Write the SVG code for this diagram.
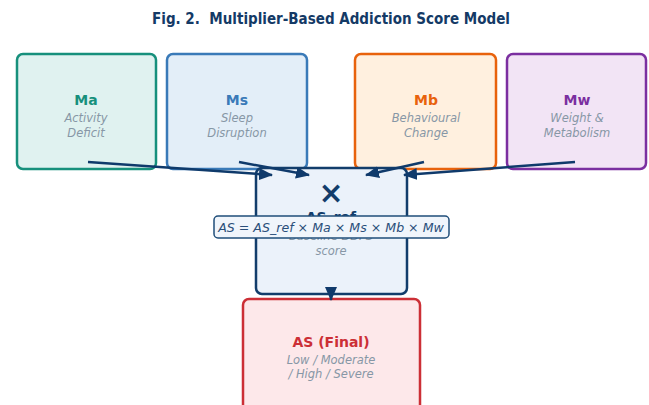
<svg xmlns="http://www.w3.org/2000/svg" width="649" height="405" viewBox="0 0 649 405">
<style>
.title{font-family:"DejaVu Sans Condensed","DejaVu Sans",sans-serif;font-weight:bold;font-size:15px;fill:#143a66;white-space:pre}
.box{stroke-width:2.5}
.lbl{font-family:"DejaVu Sans",sans-serif;font-weight:bold;font-size:14px;text-anchor:middle}
.sub{font-family:"DejaVu Sans",sans-serif;font-style:italic;font-size:11.5px;fill:#8797a6;text-anchor:middle}
.conn{stroke:#0f3a6b;stroke-width:2.5;fill:none}
</style>
<defs>
<marker id="ah" markerUnits="userSpaceOnUse" markerWidth="14" markerHeight="12" viewBox="0 0 14 12" refX="13" refY="6" orient="auto">
<path d="M0,0 L14,6 L0,12 Z" fill="#0f3a6b"/>
</marker>
</defs>
<rect width="649" height="405" fill="#ffffff"/>
<text class="title" x="331" y="24" text-anchor="middle" xml:space="preserve">Fig. 2.  Multiplier-Based Addiction Score Model</text>

<g id="node-ma">
<rect class="box" x="17" y="54" width="139" height="115" rx="6" fill="#e0f2f0" stroke="#17907c"/>
<text class="lbl" x="86" y="105" fill="#17907c">Ma</text>
<text class="sub" x="86" y="122">Activity</text>
<text class="sub" x="86" y="137">Deficit</text>
</g>
<g id="node-ms">
<rect class="box" x="167" y="54" width="140" height="115" rx="6" fill="#e3eef8" stroke="#3a7ab8"/>
<text class="lbl" x="237" y="105" fill="#3a7ab8">Ms</text>
<text class="sub" x="237" y="122">Sleep</text>
<text class="sub" x="237" y="137">Disruption</text>
</g>
<g id="node-mb">
<rect class="box" x="355" y="54" width="141" height="115" rx="6" fill="#fff0df" stroke="#e8620c"/>
<text class="lbl" x="426" y="105" fill="#e8620c">Mb</text>
<text class="sub" x="426" y="122">Behavioural</text>
<text class="sub" x="426" y="137">Change</text>
</g>
<g id="node-mw">
<rect class="box" x="507" y="54" width="139" height="115" rx="6" fill="#f2e4f5" stroke="#7b2fa0"/>
<text class="lbl" x="577" y="105" fill="#7b2fa0">Mw</text>
<text class="sub" x="577" y="122">Weight &amp;</text>
<text class="sub" x="577" y="137">Metabolism</text>
</g>
<g id="node-asref">
<rect class="box" x="256" y="168" width="151" height="126" rx="6" fill="#ebf2fa" stroke="#123d6b"/>
<text x="331" y="203" text-anchor="middle" font-family="DejaVu Sans,sans-serif" font-weight="bold" font-size="30" fill="#123d6b">×</text>
<text class="lbl" x="331" y="222" fill="#123d6b">AS_ref</text>
<text class="sub" x="331" y="240">Baseline DDFS</text>
<text class="sub" x="331" y="255">score</text>
</g>
<g id="node-final">
<rect class="box" x="243" y="299" width="177" height="112" rx="6" fill="#fde8ea" stroke="#cc2f36"/>
<text class="lbl" x="331" y="347" fill="#cc2f36">AS (Final)</text>
<text class="sub" x="331" y="364">Low / Moderate</text>
<text class="sub" x="331" y="378">/ High / Severe</text>
</g>
<g id="connectors">
<line class="conn" x1="88" y1="162" x2="272" y2="175" marker-end="url(#ah)"/>
<line class="conn" x1="239" y1="162" x2="309" y2="175" marker-end="url(#ah)"/>
<line class="conn" x1="424" y1="162" x2="366" y2="175" marker-end="url(#ah)"/>
<line class="conn" x1="575" y1="162" x2="404" y2="175" marker-end="url(#ah)"/>
<line class="conn" x1="331" y1="290" x2="331" y2="300" marker-end="url(#ah)"/>
</g>
<g id="formula">
<rect x="214" y="216" width="235" height="22" rx="4" fill="#f0f5fb" stroke="#1f4e79" stroke-width="1.5"/>
<text x="331" y="231.5" text-anchor="middle" font-family="DejaVu Sans,sans-serif" font-style="italic" font-size="12.6" fill="#2a4f7a">AS = AS_ref × Ma × Ms × Mb × Mw</text>
</g>
</svg>
